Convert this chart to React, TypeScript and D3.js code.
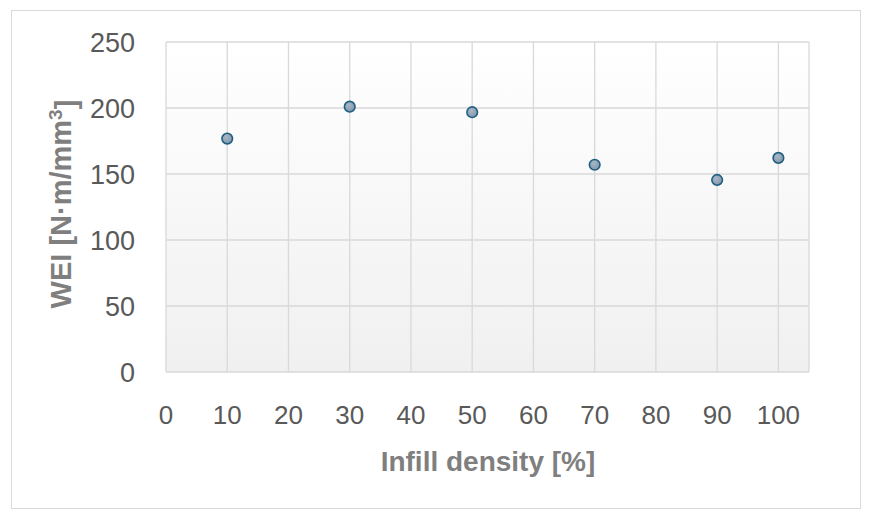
import React, { useEffect, useRef } from 'react';
import * as d3 from 'd3';

// Infill density [%] vs WEI [N·m/mm³]
const infill = [10, 30, 50, 70, 90, 100];
const wei = [176.8, 201.0, 196.8, 157.0, 145.5, 162.2];
const xTicks = [0, 10, 20, 30, 40, 50, 60, 70, 80, 90, 100];
const yTicks = [0, 50, 100, 150, 200, 250];

const W = 869;
const H = 519;

const App: React.FC = () => {
  const svgRef = useRef<SVGSVGElement>(null);

  useEffect(() => {
    document.body.style.margin = '0';
    if (!svgRef.current) return;
    const svg = d3.select(svgRef.current);
    svg.selectAll('*').remove();

    const margin = { top: 42, right: 60, bottom: 147, left: 166 };
    const innerW = W - margin.left - margin.right;
    const innerH = H - margin.top - margin.bottom;

    const x = d3.scaleLinear().domain([0, 105]).range([0, innerW]);
    const y = d3.scaleLinear().domain([0, 250]).range([innerH, 0]);

    const defs = svg.append('defs');
    const bg = defs
      .append('linearGradient')
      .attr('id', 'plotBg')
      .attr('x1', 0)
      .attr('y1', 0)
      .attr('x2', 0)
      .attr('y2', 1);
    bg.append('stop').attr('offset', '0%').attr('stop-color', '#ffffff');
    bg.append('stop').attr('offset', '100%').attr('stop-color', '#f0f0f0');

    const dotFill = defs
      .append('radialGradient')
      .attr('id', 'dotFill')
      .attr('cx', '40%')
      .attr('cy', '35%')
      .attr('r', '70%');
    dotFill.append('stop').attr('offset', '0%').attr('stop-color', '#a9b8c6');
    dotFill.append('stop').attr('offset', '100%').attr('stop-color', '#7f95aa');

    // chart frame
    svg
      .append('rect')
      .attr('x', 11.5)
      .attr('y', 10.5)
      .attr('width', 849)
      .attr('height', 498)
      .attr('fill', '#ffffff')
      .attr('stroke', '#d9d9d9')
      .attr('stroke-width', 1);

    const g = svg
      .append('g')
      .attr('transform', `translate(${margin.left},${margin.top})`);

    g.append('rect')
      .attr('width', innerW)
      .attr('height', innerH)
      .attr('fill', 'url(#plotBg)');

    // grid lines
    g.append('g')
      .selectAll('line')
      .data(yTicks)
      .join('line')
      .attr('x1', 0)
      .attr('x2', innerW)
      .attr('y1', d => y(d))
      .attr('y2', d => y(d))
      .attr('stroke', '#d9d9d9')
      .attr('stroke-width', 1.3);

    g.append('g')
      .selectAll('line')
      .data(xTicks)
      .join('line')
      .attr('x1', d => x(d))
      .attr('x2', d => x(d))
      .attr('y1', 0)
      .attr('y2', innerH)
      .attr('stroke', '#d9d9d9')
      .attr('stroke-width', 1.3);

    // right edge of plot
    g.append('line')
      .attr('x1', innerW)
      .attr('x2', innerW)
      .attr('y1', 0)
      .attr('y2', innerH)
      .attr('stroke', '#d9d9d9')
      .attr('stroke-width', 1.3);

    // tick labels
    g.append('g')
      .selectAll('text')
      .data(yTicks)
      .join('text')
      .attr('x', -31)
      .attr('y', d => y(d))
      .attr('dy', '0.36em')
      .attr('text-anchor', 'end')
      .style('font-family', '"Liberation Sans", Arial, sans-serif')
      .style('font-size', '27px')
      .style('fill', '#595959')
      .text(d => d);

    g.append('g')
      .selectAll('text')
      .data(xTicks)
      .join('text')
      .attr('x', d => x(d))
      .attr('y', innerH + 52)
      .attr('text-anchor', 'middle')
      .style('font-family', '"Liberation Sans", Arial, sans-serif')
      .style('font-size', '26px')
      .style('fill', '#595959')
      .text(d => d);

    // points
    g.append('g')
      .selectAll('circle')
      .data(infill.map((v, i) => ({ x: v, y: wei[i] })))
      .join('circle')
      .attr('cx', d => x(d.x))
      .attr('cy', d => y(d.y))
      .attr('r', 5.3)
      .attr('fill', 'url(#dotFill)')
      .attr('stroke', '#1f5f80')
      .attr('stroke-width', 1.6);

    // axis titles
    svg
      .append('text')
      .attr('x', 488)
      .attr('y', 471)
      .attr('text-anchor', 'middle')
      .style('font-family', '"Liberation Sans", Arial, sans-serif')
      .style('font-size', '28px')
      .style('font-weight', 'bold')
      .style('fill', '#7f7f7f')
      .text('Infill density [%]');

    const yt = svg
      .append('text')
      .attr('transform', 'translate(71,204) rotate(-90)')
      .attr('text-anchor', 'middle')
      .style('font-family', '"Liberation Sans", Arial, sans-serif')
      .style('font-size', '29px')
      .style('font-weight', 'bold')
      .style('fill', '#7f7f7f');
    yt.append('tspan').text('WEI [N·m/mm');
    yt.append('tspan').attr('dy', '-0.45em').style('font-size', '19px').text('3');
    yt.append('tspan').attr('dy', '0.45em').text(']');
  }, []);

  return <svg ref={svgRef} width={W} height={H} style={{ display: 'block' }} />;
};

export default App;
